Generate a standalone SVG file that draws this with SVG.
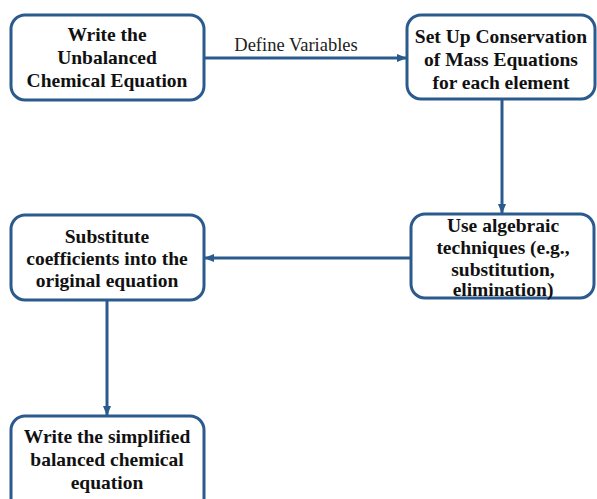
<svg xmlns="http://www.w3.org/2000/svg" width="597" height="499" viewBox="0 0 597 499">
<defs>
<marker id="ah" markerWidth="10" markerHeight="8" refX="9" refY="4" orient="auto" markerUnits="userSpaceOnUse">
<path d="M0,0 L10,4 L0,8 Z" fill="#2b5b8c"/>
</marker>
</defs>
<style>
.box{fill:#fff;stroke:#2b5b8c;stroke-width:3}
.t{font-family:"Liberation Serif","Times New Roman",serif;font-weight:bold;font-size:19.5px;fill:#111;text-anchor:middle}
.lbl{font-family:"Liberation Serif","Times New Roman",serif;font-size:18.5px;fill:#222;text-anchor:middle}
.c{stroke:#2b5b8c;stroke-width:3;fill:none;marker-end:url(#ah)}
</style>
<rect width="597" height="499" fill="#fff"/>
<g id="connectors">
<line class="c" x1="204" y1="58" x2="406" y2="58"/>
<text class="lbl" x="296" y="51">Define Variables</text>
<line class="c" x1="502" y1="99" x2="502" y2="213"/>
<line class="c" x1="411" y1="258" x2="205" y2="258"/>
<line class="c" x1="107" y1="300" x2="107" y2="415"/>
</g>
<g id="n1">
<rect class="box" x="11" y="15" width="193" height="85" rx="14"/>
<text class="t" x="107" y="41">Write the</text>
<text class="t" x="107" y="64">Unbalanced</text>
<text class="t" x="107" y="87">Chemical Equation</text>
</g>
<g id="n2">
<rect class="box" x="407" y="15" width="188" height="84" rx="14"/>
<text class="t" x="501" y="43">Set Up Conservation</text>
<text class="t" x="501" y="66">of Mass Equations</text>
<text class="t" x="501" y="89">for each element</text>
</g>
<g id="n3">
<rect class="box" x="411" y="214" width="183" height="84" rx="14"/>
<text class="t" x="503" y="232">Use algebraic</text>
<text class="t" x="503" y="254">techniques (e.g.,</text>
<text class="t" x="503" y="276">substitution,</text>
<text class="t" x="503" y="296">elimination)</text>
</g>
<g id="n4">
<rect class="box" x="11" y="215" width="193" height="85" rx="14"/>
<text class="t" x="107" y="243">Substitute</text>
<text class="t" x="107" y="265">coefficients into the</text>
<text class="t" x="107" y="287">original equation</text>
</g>
<g id="n5">
<rect class="box" x="11" y="416" width="193" height="100" rx="14"/>
<text class="t" x="107" y="443">Write the simplified</text>
<text class="t" x="107" y="466">balanced chemical</text>
<text class="t" x="107" y="489">equation</text>
</g>
</svg>
